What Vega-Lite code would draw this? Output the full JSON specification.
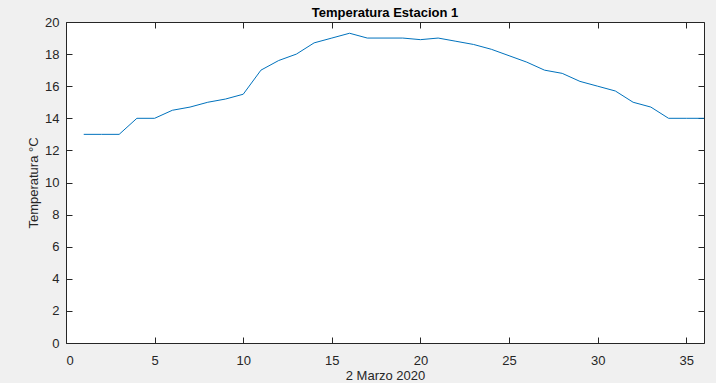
{
  "$schema": "https://vega.github.io/schema/vega-lite/v6.json",
  "width": 638,
  "height": 321,
  "autosize": {"type": "none"},
  "padding": {"left": 66, "top": 22, "right": 12, "bottom": 40},
  "background": "#f0f0f0",
  "title": {
    "text": "Temperatura Estacion 1",
    "font": "Liberation Sans",
    "fontSize": 13,
    "fontWeight": "bold",
    "color": "#000000",
    "offset": -4
  },
  "data": {
    "values": [
      {"t": 1, "temp": 13},
      {"t": 2, "temp": 13},
      {"t": 3, "temp": 13},
      {"t": 4, "temp": 14},
      {"t": 5, "temp": 14},
      {"t": 6, "temp": 14.5},
      {"t": 7, "temp": 14.7},
      {"t": 8, "temp": 15},
      {"t": 9, "temp": 15.2},
      {"t": 10, "temp": 15.5},
      {"t": 11, "temp": 17},
      {"t": 12, "temp": 17.6},
      {"t": 13, "temp": 18},
      {"t": 14, "temp": 18.7},
      {"t": 15, "temp": 19},
      {"t": 16, "temp": 19.3},
      {"t": 17, "temp": 19},
      {"t": 18, "temp": 19},
      {"t": 19, "temp": 19},
      {"t": 20, "temp": 18.9},
      {"t": 21, "temp": 19},
      {"t": 22, "temp": 18.8},
      {"t": 23, "temp": 18.6},
      {"t": 24, "temp": 18.3},
      {"t": 25, "temp": 17.9},
      {"t": 26, "temp": 17.5},
      {"t": 27, "temp": 17},
      {"t": 28, "temp": 16.8},
      {"t": 29, "temp": 16.3},
      {"t": 30, "temp": 16},
      {"t": 31, "temp": 15.7},
      {"t": 32, "temp": 15},
      {"t": 33, "temp": 14.7},
      {"t": 34, "temp": 14},
      {"t": 35, "temp": 14},
      {"t": 36, "temp": 14}
    ]
  },
  "config": {
    "view": {"fill": "#ffffff", "stroke": null},
    "axis": {
      "grid": false,
      "domainColor": "#262626",
      "tickColor": "#262626",
      "labelColor": "#262626",
      "titleColor": "#262626",
      "labelFont": "Liberation Sans",
      "titleFont": "Liberation Sans",
      "labelFontSize": 13,
      "titleFontSize": 13,
      "titleFontWeight": "normal",
      "tickSize": -6,
      "tickWidth": 1,
      "domainWidth": 1
    }
  },
  "layer": [
    {
      "mark": {"type": "line", "color": "#0072BD", "strokeWidth": 1},
      "encoding": {
        "x": {
          "field": "t",
          "type": "quantitative",
          "scale": {"domain": [0, 36], "nice": false},
          "axis": {
            "orient": "bottom",
            "values": [0, 5, 10, 15, 20, 25, 30, 35],
            "title": "2 Marzo 2020",
            "labelPadding": 17,
            "titlePadding": 2
          }
        },
        "y": {
          "field": "temp",
          "type": "quantitative",
          "scale": {"domain": [0, 20], "nice": false},
          "axis": {
            "orient": "left",
            "values": [0, 2, 4, 6, 8, 10, 12, 14, 16, 18, 20],
            "title": "Temperatura °C",
            "labelPadding": 13,
            "titlePadding": 4
          }
        }
      }
    },
    {
      "mark": {"type": "line", "opacity": 0},
      "encoding": {
        "x": {
          "field": "t",
          "type": "quantitative",
          "axis": {"orient": "top", "values": [0, 5, 10, 15, 20, 25, 30, 35], "labels": false, "title": null}
        },
        "y": {
          "field": "temp",
          "type": "quantitative",
          "axis": {"orient": "right", "values": [0, 2, 4, 6, 8, 10, 12, 14, 16, 18, 20], "labels": false, "title": null}
        }
      }
    }
  ],
  "resolve": {"axis": {"x": "independent", "y": "independent"}}
}
